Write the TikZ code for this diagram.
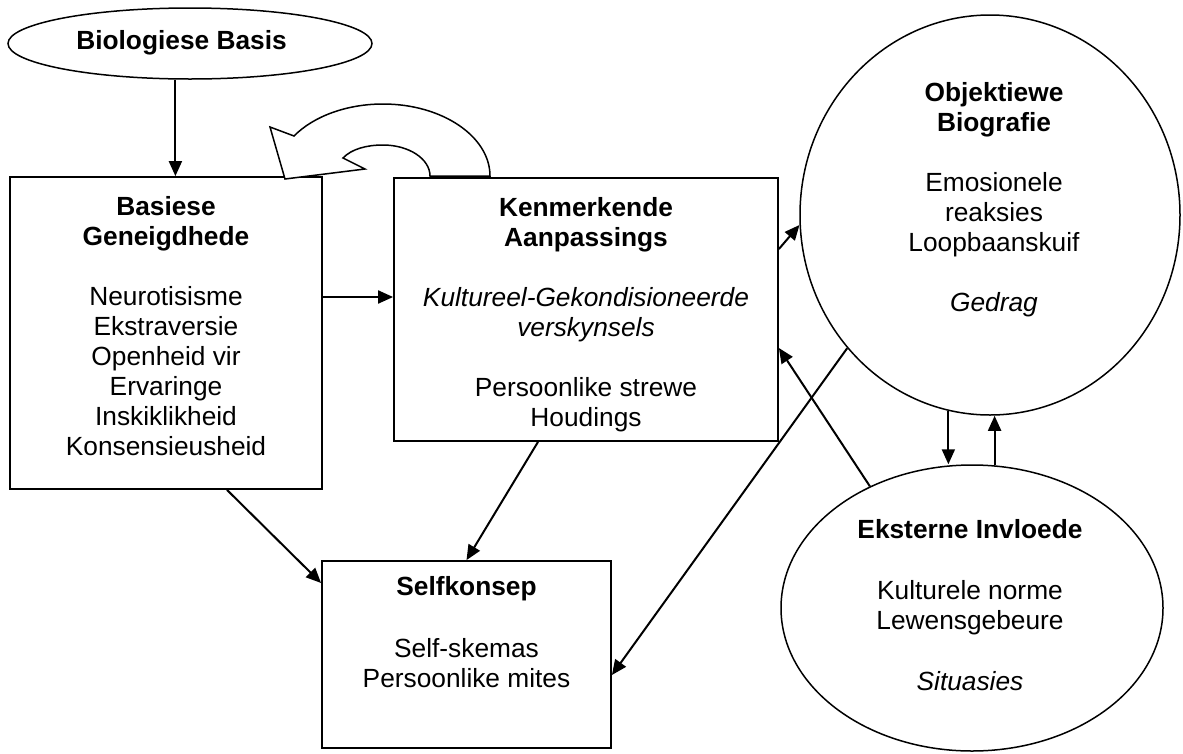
\documentclass[tikz,border=0pt]{standalone}
\usepackage{fontspec}
\setmainfont{Liberation Sans}
\usetikzlibrary{shapes.geometric,arrows.meta}
\begin{document}
\begin{tikzpicture}[x=1pt,y=-1pt,
  box/.style={draw,line width=1.8pt,rectangle,inner sep=0pt},
  oval/.style={draw,line width=1.5pt,ellipse,inner sep=0pt},
  txt/.style={inner sep=0pt,align=center,font=\fontsize{26.3}{30}\selectfont},
  arr/.style={line width=2pt,-{Triangle[length=15pt,width=13pt]}},
  blockarrow/.style={line width=1.5pt,fill=white,line join=miter}]
\useasboundingbox (0,0) rectangle (1183,753);
% shapes
\node[oval,minimum width=364pt,minimum height=71pt] (bio) at (190,43.5) {};
\node[box,minimum width=312pt,minimum height=312pt] (bb) at (166,333) {};
\node[box,minimum width=384pt,minimum height=263pt] (km) at (586,309.5) {};
\node[box,minimum width=289pt,minimum height=187pt] (sk) at (466.5,654.5) {};
\node[oval,minimum width=380pt,minimum height=400pt] (ob) at (990,215) {};
\node[oval,minimum width=382pt,minimum height=286pt] (ek) at (972,608) {};
% curved block arrow on top of Kenmerkende
\draw[blockarrow] (490,176) .. controls (490,136.3) and (442,104) .. (383,104)
  .. controls (347.2,104) and (313.8,116) .. (294,136) -- (270,127) -- (285,179)
  -- (365,169) -- (343,158) .. controls (351.6,148.9) and (366.8,145) .. (383,145)
  .. controls (408.9,145) and (430,158.9) .. (430,176) -- cycle;
% texts
\node[txt,anchor=base] (tbio) at (181.5,49) {\textbf{Biologiese Basis}};
\node[txt] (tbb) at (166,326.5) {\textbf{Basiese}\\\textbf{Geneigdhede}\\[30pt]Neurotisisme\\Ekstraversie\\Openheid vir\\Ervaringe\\Inskiklikheid\\Konsensieusheid};
\node[txt] (tkm) at (586,314.2) {\textbf{Kenmerkende}\\\textbf{Aanpassings}\\[30pt]\textit{Kultureel-Gekondisioneerde}\\\textit{verskynsels}\\[30pt]Persoonlike strewe\\Houdings};
\node[txt] (tob) at (994,199.2) {\textbf{Objektiewe}\\\textbf{Biografie}\\[30pt]Emosionele\\reaksies\\Loopbaanskuif\\[30pt]\textit{Gedrag}};
\node[txt] (tsk) at (466.5,632.5) {\textbf{Selfkonsep}\\[32pt]Self-skemas\\Persoonlike mites};
\node[txt] (tek) at (970,605.5) {\textbf{Eksterne Invloede}\\[31pt]Kulturele norme\\Lewensgebeure\\[31pt]\textit{Situasies}};
% connectors
\draw[arr] (bio.248) -- (bio.248 |- bb.north);
\draw[arr] ([yshift=36pt]bb.east) -- ([yshift=36pt]bb.east -| km.west);
\draw[arr] ([yshift=60.5pt]km.east) -- (ob.183);
\draw[arr] (ob.223) -- ([yshift=-20.5pt]sk.east);
\draw[arr] (ek.130) -- ([yshift=-38.5pt]km.east);
\draw[arr] ([xshift=61pt]bb.south) -- ([yshift=71.5pt]sk.west);
\draw[arr] ([xshift=-48pt]km.south) -- (sk.north);
\draw[arr] (ob.258) -- (ob.258 |- ek.north);
\draw[arr] (ek.81) -- (ek.81 |- ob.south);
\end{tikzpicture}
\end{document}
